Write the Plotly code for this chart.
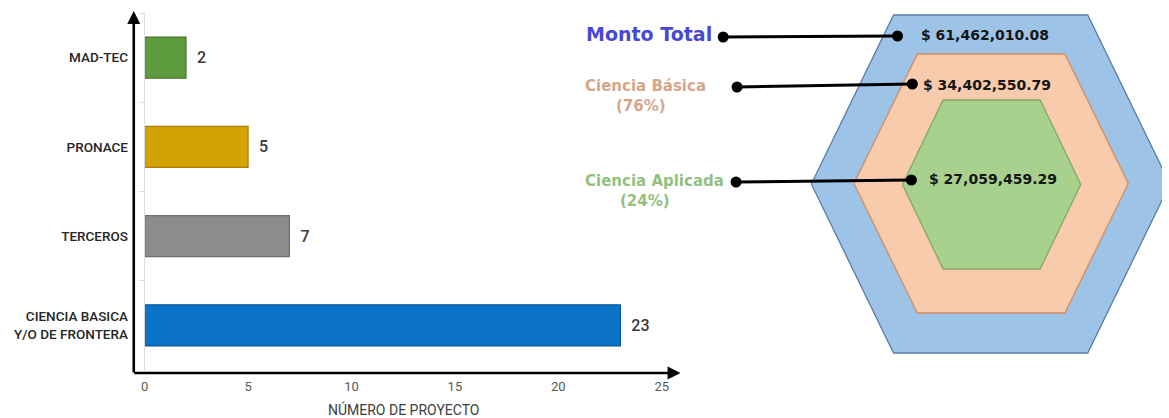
import plotly.graph_objects as go

# ---------------- data ----------------
categorias = ["MAD-TEC", "PRONACE", "TERCEROS", "CIENCIA BASICA<br>Y/O DE FRONTERA"]
proyectos = [2, 5, 7, 23]
colores_barras = ["#5e9b3f", "#d3a206", "#8c8c8c", "#0b74c9"]
bordes_barras = ["#487a2e", "#a87f00", "#6e6e6e", "#08589a"]
x_ticks = [0, 5, 10, 15, 20, 25]
x_titulo = "NÚMERO DE PROYECTO"

montos_nombres = ["Monto Total", "Ciencia Básica", "Ciencia Aplicada"]
montos = [61462010.08, 34402550.79, 27059459.29]
porcentajes = [None, 76, 24]

# ---------------- layout helpers (pixel space) ----------------
W, H = 1169, 418
SANS = "Roboto, Liberation Sans, Arial, sans-serif"
VERD = "DejaVu Sans, Verdana, sans-serif"

fig = go.Figure()

# bar chart
fig.add_trace(go.Bar(
    y=categorias, x=proyectos, orientation="h",
    marker=dict(color=colores_barras, line=dict(color=bordes_barras, width=1.2)),
    width=0.46,
    text=["\u00a0\u00a0" + str(v) for v in proyectos], textposition="outside",
    textfont=dict(family=SANS, size=16, color="#3a3a3a", weight=500),
    cliponaxis=False, showlegend=False, hoverinfo="x+y",
    xaxis="x", yaxis="y",
))

# hexagons (decorative, pixel space)
hexes = [
    # cx, cy, R, top half width, half height, fill, line
    (996, 184, 181, 98, 169, "#9dc3e6", "#5a7daa"),
    (996.5, 183.5, 138.5, 74.5, 129.5, "#f8cbad", "#cf8d63"),
    (997, 184.5, 90, 49, 84.5, "#a9d18e", "#80a865"),
]
for cx, cy, R, tw, hh, fc, lc in hexes:
    xs = [cx - R, cx - tw, cx + tw, cx + R, cx + tw, cx - tw, cx - R]
    ys = [cy, cy - hh, cy - hh, cy, cy + hh, cy + hh, cy]
    fig.add_trace(go.Scatter(x=xs, y=ys, mode="lines", fill="toself",
                             fillcolor=fc, line=dict(color=lc, width=1.3),
                             xaxis="x2", yaxis="y2", showlegend=False, hoverinfo="skip"))

# callout connectors
conectores = [((726, 37), (902, 36)), ((740, 87), (917, 84)), ((739, 182), (916, 180))]
for (x0, y0), (x1, y1) in conectores:
    fig.add_trace(go.Scatter(x=[x0, x1], y=[y0, y1], mode="lines+markers",
                             line=dict(color="black", width=3),
                             marker=dict(color="black", size=11),
                             xaxis="x2", yaxis="y2", showlegend=False, hoverinfo="skip"))

ann = []
# axis arrows
ann.append(dict(x=131, y=11, ax=131, ay=374, xref="x2", yref="y2", axref="x2", ayref="y2",
                text="", showarrow=True, arrowhead=2, arrowsize=1, arrowwidth=2.6, arrowcolor="black"))
ann.append(dict(x=683, y=373, ax=130, ay=373, xref="x2", yref="y2", axref="x2", ayref="y2",
                text="", showarrow=True, arrowhead=2, arrowsize=1, arrowwidth=2.6, arrowcolor="black"))
# x axis title
ann.append(dict(x=403, y=409, xref="x2", yref="y2", text=x_titulo, showarrow=False,
                font=dict(family=SANS, size=14, color="#404040"), xanchor="center", yanchor="middle"))

# right-side labels
ann.append(dict(x=717, y=34, xref="x2", yref="y2", text="<b>%s</b>" % montos_nombres[0], showarrow=False,
                font=dict(family=VERD, size=19, color="#4848d4"), xanchor="right", yanchor="middle"))
ann.append(dict(x=648, y=86, xref="x2", yref="y2", text="<b>%s</b>" % montos_nombres[1], showarrow=False,
                font=dict(family=VERD, size=15, color="#d6a68b"), xanchor="center", yanchor="middle"))
ann.append(dict(x=643, y=106, xref="x2", yref="y2", text="<b>(%d%%)</b>" % porcentajes[1], showarrow=False,
                font=dict(family=VERD, size=15, color="#d6a68b"), xanchor="center", yanchor="middle"))
ann.append(dict(x=657, y=181, xref="x2", yref="y2", text="<b>%s</b>" % montos_nombres[2], showarrow=False,
                font=dict(family=VERD, size=15, color="#93bf7f"), xanchor="center", yanchor="middle"))
ann.append(dict(x=647, y=201, xref="x2", yref="y2", text="<b>(%d%%)</b>" % porcentajes[2], showarrow=False,
                font=dict(family=VERD, size=15, color="#93bf7f"), xanchor="center", yanchor="middle"))

valor_pos = [(924, 35), (926, 85), (932, 179)]
for v, (px, py) in zip(montos, valor_pos):
    ann.append(dict(x=px, y=py, xref="x2", yref="y2", text="<b>$ %s</b>" % format(v, ",.2f"),
                    showarrow=False, font=dict(family=VERD, size=14, color="#151515"),
                    xanchor="left", yanchor="middle"))

fig.update_layout(
    width=W, height=H,
    margin=dict(l=0, r=0, t=0, b=0),
    paper_bgcolor="white", plot_bgcolor="rgba(0,0,0,0)",
    showlegend=False,
    bargap=0.54,
    xaxis=dict(domain=[142 / W, 664 / W], range=[0, 25], tickvals=x_ticks,
               showgrid=False, zeroline=False, showline=False,
               ticks="outside", ticklen=0, ticklabelstandoff=4,
               tickfont=dict(family=SANS, size=13, color="#595959"),
               anchor="y", fixedrange=True),
    yaxis=dict(domain=[1 - 370 / H, 1 - 13 / H], type="category",
               categoryorder="array", categoryarray=categorias, autorange="reversed",
               showgrid=False, zeroline=False, showline=True, linecolor="#dcdcdc", linewidth=1,
               ticks="outside", tickson="boundaries", ticklen=5, tickcolor="#dcdcdc",
               ticklabelstandoff=13,
               tickfont=dict(family=SANS, size=13.5, color="#262626", weight=500),
               anchor="x", fixedrange=True),
    xaxis2=dict(domain=[0, 1], range=[0, W], visible=False, anchor="y2", fixedrange=True),
    yaxis2=dict(domain=[0, 1], range=[H, 0], visible=False, anchor="x2", fixedrange=True),
    annotations=ann,
)

fig.write_html("out.html", config={"displayModeBar": False},
               post_script="document.body.style.margin='0';document.body.style.overflow='hidden';")
